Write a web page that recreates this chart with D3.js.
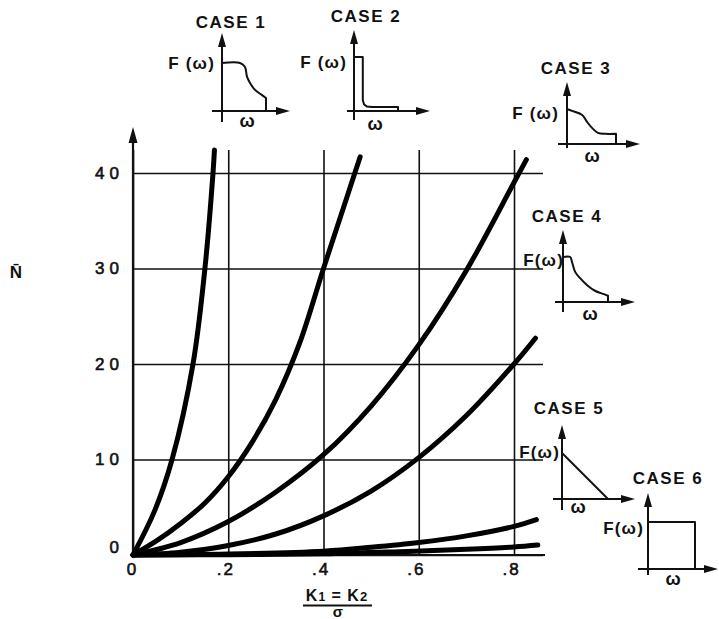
<!DOCTYPE html>
<html><head><meta charset="utf-8">
<script src="https://cdn.jsdelivr.net/npm/d3@7"></script>
<style>
html,body{margin:0;padding:0;background:#fff;}
svg{display:block;}
text{font-family:"Liberation Sans",Arial,sans-serif;fill:#111;}
</style></head><body>
<svg id="c" width="719" height="619"></svg>
<script>
// ---- data ----
const xTicks=[0,0.2,0.4,0.6,0.8];
const xTickLabels=["0",".2",".4",".6",".8"];
const yTicks=[0,10,20,30,40];
const yTickLabels=["0","10","20","30","40"];

// N-bar vs (K1=K2)/sigma, one curve per case
const curve1=[[0,0],[0.046,4.7],[0.082,10],[0.126,20],[0.151,30],[0.168,40],[0.171,42.4]];
const curve2=[[0,0],[0.05,1.5],[0.1,3.3],[0.15,5.4],[0.2,8.2],[0.25,11.8],[0.3,16.3],[0.35,22.2],[0.4,30],[0.45,37.6],[0.477,41.7]];
const curve3=[[0,0],[0.1,1.3],[0.2,3.5],[0.3,6.6],[0.4,10.5],[0.5,15.6],[0.6,22.0],[0.7,29.8],[0.8,39.0],[0.826,41.4]];
const curve4=[[0,0],[0.1,0.3],[0.2,1.0],[0.3,2.2],[0.4,4.1],[0.5,6.7],[0.6,10.2],[0.7,14.6],[0.8,20.0],[0.845,22.7]];
const curve5=[[0,0],[0.2,0.1],[0.4,0.4],[0.5,0.8],[0.6,1.3],[0.7,2.0],[0.8,3.0],[0.847,3.7]];
const curve6=[[0,0],[0.2,0.03],[0.4,0.12],[0.56,0.35],[0.7,0.6],[0.8,0.85],[0.85,1.05]];
const curves=[curve1,curve2,curve3,curve4,curve5,curve6];

// inset spectra F(omega), normalised omega and F
const caseTitles=["CASE 1","CASE 2","CASE 3","CASE 4","CASE 5","CASE 6"];
const spectrum1=[[0,1],[0.41,1],[0.52,0.92],[0.57,0.71],[0.64,0.58],[0.75,0.44],[0.91,0.33],[1,0.27],[1,0]];
const spectrum2=[[0,1],[0.2,1],[0.2,0.2],[0.23,0.12],[0.29,0.085],[0.41,0.074],[1,0.074],[1,0]];
const spectrum3=[[0,1],[0.12,0.94],[0.31,0.83],[0.41,0.63],[0.51,0.46],[0.63,0.32],[0.78,0.29],[1,0.29],[1,0]];
const spectrum4=[[0,1],[0.16,1],[0.2,0.89],[0.27,0.67],[0.38,0.53],[0.53,0.38],[0.71,0.25],[0.89,0.18],[1,0.14],[1,0]];
const spectrum5=[[0,1],[1,0]];
const spectrum6=[[0,1],[1,1],[1,0]];
const spectra=[spectrum1,spectrum2,spectrum3,spectrum4,spectrum5,spectrum6];
const spectrumSmooth=[true,false,true,true,false,false];
const fLabels=["F (ω)","F (ω)","F (ω)","F(ω)","F(ω)","F(ω)"];

// ---- layout ----
const svg=d3.select("#c");
const X0=133, Y0=555;
const x=d3.scaleLinear().domain([0,0.8]).range([X0,514]);
const y=d3.scaleLinear().domain([0,40]).range([Y0,173]);

// vertical grid + x tick labels
const gx=svg.append("g").attr("transform",`translate(0,${Y0})`)
  .call(d3.axisBottom(x).tickValues(xTicks).tickFormat((d,i)=>xTickLabels[i]).tickSize(-(Y0-150)).tickPadding(8));
gx.select(".domain").remove();
gx.selectAll(".tick line").attr("stroke","#111").attr("stroke-width",1.6);
gx.selectAll(".tick text").attr("font-size",17).attr("fill","#111").attr("stroke","#111").attr("stroke-width",0.6)
  .attr("letter-spacing",2).attr("dx",(d,i)=>i===0?-1:-3).attr("font-family","Liberation Sans, Arial, sans-serif");

// horizontal grid + y tick labels
const gy=svg.append("g").attr("transform",`translate(${X0},0)`)
  .call(d3.axisLeft(y).tickValues(yTicks).tickFormat((d,i)=>yTickLabels[i]).tickSize(-(543-X0)).tickPadding(5));
gy.select(".domain").remove();
gy.selectAll(".tick line").attr("stroke","#111").attr("stroke-width",1.6);
gy.selectAll(".tick text").attr("font-size",17).attr("fill","#111").attr("stroke","#111").attr("stroke-width",0.6)
  .attr("letter-spacing",5).attr("x",-9).attr("font-family","Liberation Sans, Arial, sans-serif")
  .attr("y",d=>d===0?-8:0);

// main axes
svg.append("line").attr("x1",X0).attr("y1",Y0).attr("x2",545).attr("y2",Y0).attr("stroke","#111").attr("stroke-width",2.2);
svg.append("line").attr("x1",X0).attr("y1",Y0).attr("x2",X0).attr("y2",138).attr("stroke","#111").attr("stroke-width",2.2);
svg.append("path").attr("d",`M${X0},127L${X0-4.5},143L${X0+4.5},143Z`).attr("fill","#111");

// curves
const line=d3.line().x(d=>x(d[0])).y(d=>y(d[1])).curve(d3.curveCatmullRom.alpha(0.5));
svg.append("g").selectAll("path").data(curves).join("path")
  .attr("d",line).attr("fill","none").attr("stroke","#000").attr("stroke-width",5)
  .attr("stroke-linecap","round").attr("stroke-linejoin","round");

// axis titles
svg.append("text").attr("x",16).attr("y",278).attr("text-anchor","middle").attr("font-size",17).attr("font-weight","bold").text("N\u0304");
const xl=svg.append("text").attr("x",337).attr("y",601).attr("text-anchor","middle").attr("font-size",16).attr("font-weight","bold").attr("letter-spacing",1);
xl.append("tspan").text("K");
xl.append("tspan").attr("font-size",12).text("1");
xl.append("tspan").text(" = K");
xl.append("tspan").attr("font-size",13).text("2");
svg.append("line").attr("x1",303).attr("x2",372).attr("y1",605.5).attr("y2",605.5).attr("stroke","#111").attr("stroke-width",2);
svg.append("text").attr("x",338).attr("y",617).attr("text-anchor","middle").attr("font-size",15).attr("font-weight","bold").text("σ");

// insets
const insets=[
 {tx:230,ty:22,ox:222,oy:111,w:44,h:48,top:33,bot:122,left:212,right:290,fx:213,fy:63,wx:247,wy:122},
 {tx:365,ty:16,ox:354,oy:111,w:44,h:54,top:30,bot:120,left:347,right:430,fx:345,fy:62,wx:375,wy:125},
 {tx:575,ty:68,ox:567,oy:144,w:49,h:35,top:82,bot:148,left:558,right:640,fx:557,fy:113,wx:592,wy:157},
 {tx:566,ty:216,ox:563,oy:302,w:45,h:45,top:230,bot:312,left:555,right:635,fx:562,fy:260,wx:590,wy:315},
 {tx:568,ty:408,ox:562,oy:499,w:46,h:46,top:425,bot:510,left:553,right:635,fx:558,fy:452,wx:578,wy:508},
 {tx:667,ty:478,ox:648,oy:569,w:47,h:47,top:493,bot:575,left:638,right:718,fx:642,fy:528,wx:673,wy:580}
];
insets.forEach((c,i)=>{
  const g=svg.append("g");
  const sx=d3.scaleLinear().domain([0,1]).range([c.ox,c.ox+c.w]);
  const sy=d3.scaleLinear().domain([0,1]).range([c.oy,c.oy-c.h]);
  g.append("text").attr("x",c.tx+1).attr("y",c.ty).attr("dy","0.36em").attr("text-anchor","middle")
    .attr("font-size",17).attr("font-weight","bold").attr("letter-spacing",1.5).text(caseTitles[i]);
  // axes
  g.append("line").attr("x1",c.ox).attr("x2",c.ox).attr("y1",c.bot).attr("y2",c.top+10).attr("stroke","#111").attr("stroke-width",2);
  g.append("line").attr("x1",c.left).attr("x2",c.right-10).attr("y1",c.oy).attr("y2",c.oy).attr("stroke","#111").attr("stroke-width",2);
  g.append("path").attr("d",`M${c.ox},${c.top}L${c.ox-4},${c.top+14}L${c.ox+4},${c.top+14}Z`).attr("fill","#111");
  g.append("path").attr("d",`M${c.right},${c.oy}L${c.right-14},${c.oy-4}L${c.right-14},${c.oy+4}Z`).attr("fill","#111");
  // spectrum
  const pts=spectra[i];
  let d;
  if(spectrumSmooth[i]){
    const ln=d3.line().x(p=>sx(p[0])).y(p=>sy(p[1])).curve(d3.curveCatmullRom.alpha(0.5));
    const last=pts[pts.length-1];
    d=ln(pts.slice(0,-1))+`L${sx(last[0])},${sy(last[1])}`;
  } else {
    d=d3.line().x(p=>sx(p[0])).y(p=>sy(p[1]))(pts);
  }
  g.append("path").attr("d",d).attr("fill","none").attr("stroke","#111").attr("stroke-width",2).attr("stroke-linejoin","round");
  g.append("text").attr("x",c.fx+2).attr("y",c.fy).attr("dy","0.36em").attr("text-anchor","end")
    .attr("font-size",17).attr("font-weight","bold").attr("letter-spacing",1.2).text(fLabels[i]);
  g.append("text").attr("x",c.wx).attr("y",c.wy).attr("dy","0.3em").attr("text-anchor","middle")
    .attr("font-size",18).attr("font-weight","bold").text("ω");
});
</script>
</body></html>
